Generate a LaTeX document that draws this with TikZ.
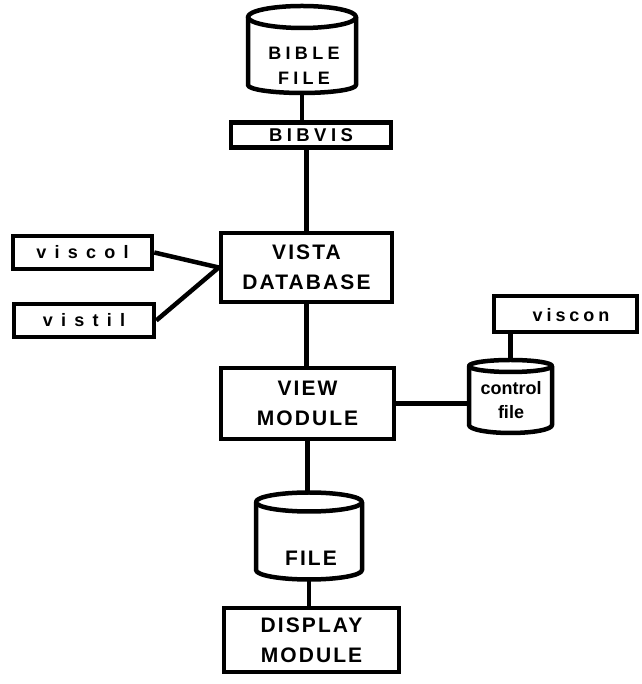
\documentclass[tikz,border=0pt]{standalone}
\usepackage{fontspec}
\setmainfont{Liberation Sans}
\newfontfamily\capsfont{Liberation Sans}[LetterSpace=10]
\newfontfamily\smallcapsfont{Liberation Sans}[LetterSpace=24]
\newfontfamily\widefont{Liberation Sans}[LetterSpace=46]
\newfontfamily\midfont{Liberation Sans}[LetterSpace=22]
\newfontfamily\plainfont{Liberation Sans}
\tikzset{
  box/.style={draw, line width=4.5pt, rectangle, inner sep=0pt, fill=white},
  conn/.style={line width=4.5pt},
  cylline/.style={line width=4.5pt, line join=round},
  anchorbox/.style={inner sep=0pt, outer sep=0pt, draw=none},
  captxt/.style={align=center, inner sep=0pt, font=\capsfont\bfseries\fontsize{21}{30}\selectfont},
  smallcaptxt/.style={align=center, inner sep=0pt, font=\smallcapsfont\bfseries\fontsize{18}{25}\selectfont},
  widetxt/.style={inner sep=0pt, font=\widefont\bfseries\fontsize{18}{22}\selectfont},
  midtxt/.style={inner sep=0pt, font=\midfont\bfseries\fontsize{18}{22}\selectfont},
  ctrltxt/.style={align=center, inner sep=0pt, font=\plainfont\bfseries\fontsize{18}{24}\selectfont},
}
% cx, Y top-cap centre, Y bottom centre, rx, ry top, ry bottom
\newcommand\drawcyl[6]{%
  \filldraw[fill=white, cylline] (#1-#4,#2) -- (#1-#4,#3)
    arc[start angle=180, end angle=360, x radius=#4pt, y radius=#6pt] -- (#1+#4,#2);
  \draw[cylline, fill=white] (#1,#2) ellipse[x radius=#4pt, y radius=#5pt];
}
\begin{document}
\begin{tikzpicture}[x=1pt, y=1pt]
\useasboundingbox (0,0) rectangle (641,684);

% cylinders (anchor nodes)
\node[anchorbox, minimum width=110pt, minimum height=88pt] (bible) at (302,635) {};
\node[anchorbox, minimum width=85pt, minimum height=73.5pt] (ctrl) at (510.5,287.75) {};
\node[anchorbox, minimum width=108pt, minimum height=88pt] (file) at (309,148) {};

% boxes
\node[box, minimum width=160pt, minimum height=25pt] (bibvis) at (311,549) {};
\node[box, minimum width=171pt, minimum height=69pt] (vista) at (306.5,416.5) {};
\node[box, minimum width=139pt, minimum height=33pt] (viscol) at (82.5,431.5) {};
\node[box, minimum width=140pt, minimum height=33pt] (vistil) at (84,363.5) {};
\node[box, minimum width=173pt, minimum height=71pt] (view) at (307.5,280.5) {};
\node[box, minimum width=143pt, minimum height=36pt] (viscon) at (565.5,370) {};
\node[box, minimum width=175pt, minimum height=64pt] (display) at (311.5,44) {};

% connectors
\draw[conn] (bible.south) -- (bible.south |- bibvis.north);
\draw[conn] (bibvis.south -| vista.north) -- (vista.north);
\draw[conn] (viscol.east) -- (vista.west);
\draw[conn] (vistil.east) -- (vista.west);
\draw[conn] (vista.south) -- (vista.south |- view.north);
\draw[conn] (view.east) -- (view.east -| ctrl.west);
\draw[conn] (viscon.south -| ctrl.north) -- (ctrl.north);
\draw[conn] (view.south) -- (view.south |- file.north);
\draw[conn] (file.south) -- (file.south |- display.north);

% cylinder outlines
\drawcyl{302}{667}{599}{54}{11}{8}
\drawcyl{510.5}{318}{259}{41.5}{6}{8}
\drawcyl{309}{182}{114}{53}{9.5}{9.5}

% texts
\node[smallcaptxt] (bibletxt) at (304,618) {BIBLE\\FILE};
\node[smallcaptxt, font=\smallcapsfont\bfseries\fontsize{18.5}{25}\selectfont] (bibvistxt) at (bibvis) {BIBVIS};
\node[captxt] (vistatxt) at (vista) {VISTA\\DATABASE};
\node[widetxt] (viscoltxt) at (viscol) {viscol};
\node[widetxt] (vistiltxt) at (vistil) {vistil};
\node[captxt] (viewtxt) at (view) {VIEW\\MODULE};
\node[midtxt] (viscontxt) at (571,369) {viscon};
\node[ctrltxt] (ctrltext) at (511,284) {control\\file};
\node[captxt] (filetxt) at (311,126) {FILE};
\node[captxt] (displaytxt) at (display) {DISPLAY\\MODULE};
\end{tikzpicture}
\end{document}
